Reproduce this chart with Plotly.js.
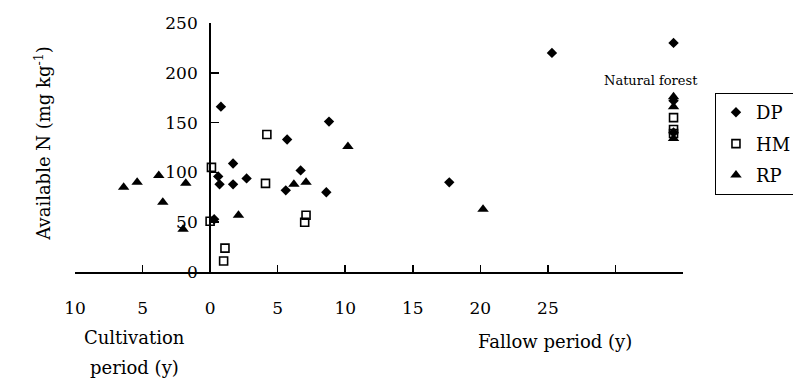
<!DOCTYPE html>
<html>
<head>
<meta charset="utf-8">
<script src="https://cdn.plot.ly/plotly-3.0.1.min.js"></script>
<style>
  html, body { margin: 0; padding: 0; background: #fff; }
  #chart { width: 793px; height: 378px; }
</style>
</head>
<body>
<div id="chart"></div>
<script>
// Cultivation years are plotted as negative x, fallow years as positive x.
// The natural forest column sits at the far right of the fallow axis.
const dpX = [0.8, 1.7, 0.6, 0.7, 1.7, 2.7, 5.7, 5.6, 6.7, 8.8, 8.6, 0.3, 17.7, 25.3, 34.3, 34.3, 34.3];
const dpY = [166, 109, 96, 88, 88, 94, 133, 82, 102, 151, 80, 53, 90, 220, 230, 172, 140];

const hmX = [0.1, 0.0, 1.1, 1.0, 4.2, 4.1, 7.1, 7.0, 34.3, 34.3, 34.3];
const hmY = [105, 51, 24, 11, 138, 89, 57, 50, 155, 143, 139];

const rpX = [-6.4, -5.4, -3.8, -1.8, -3.5, -2.0, 2.1, 6.2, 7.1, 10.2, 20.2, 34.3, 34.3, 34.3];
const rpY = [85, 90, 97, 89, 70, 43, 57, 88, 90, 126, 63, 176, 166, 134];

const xTickVals = [-10, -5, 0, 5, 10, 15, 20, 25];
const xTickText = ['10', '5', '0', '5', '10', '15', '20', '25'];
const xExtraTicks = [30];
const yTickVals = [0, 50, 100, 150, 200, 250];

const xRange = [-10, 35];
const yRange = [0, 250];

const serif = 'DejaVu Serif, Liberation Serif, serif';

const traces = [
  {
    name: 'DP', x: dpX, y: dpY, type: 'scatter', mode: 'markers',
    legendgroup: 'dp', cliponaxis: false,
    marker: { symbol: 'diamond', size: 8, color: '#000' }
  },
  {
    name: 'HM', x: hmX, y: hmY, type: 'scatter', mode: 'markers',
    legendgroup: 'hm', cliponaxis: false,
    marker: { symbol: 'square-open', size: 8, color: '#000', line: { width: 1.6, color: '#000' } }
  },
  {
    name: 'RP', x: rpX, y: rpY, type: 'scatter', mode: 'markers',
    legendgroup: 'rp', cliponaxis: false,
    marker: { symbol: 'triangle-up', size: 10, color: '#000' }
  }
];

// the vertical axis stands at x = 0, between cultivation and fallow
const yAxisPos = (0 - xRange[0]) / (xRange[1] - xRange[0]);

const layout = {
  width: 793,
  height: 378,
  margin: { l: 75, r: 110, t: 23, b: 106 },
  paper_bgcolor: '#fff',
  plot_bgcolor: '#fff',
  font: { family: serif, color: '#000', size: 17 },
  showlegend: true,
  legend: {
    xref: 'container', yref: 'container',
    x: 0.9016, y: 0.754, xanchor: 'left', yanchor: 'top',
    bordercolor: '#000', borderwidth: 1, bgcolor: '#fff',
    font: { family: serif, size: 18, color: '#000' },
    tracegroupgap: 5, itemwidth: 30
  },
  xaxis: {
    range: xRange,
    showline: true, linecolor: '#000', linewidth: 2,
    ticks: 'inside', ticklen: 7, tickwidth: 1.5, tickcolor: '#000',
    tickmode: 'array', tickvals: xTickVals, ticktext: xTickText,
    minor: {
      tickmode: 'array', tickvals: xExtraTicks,
      ticks: 'inside', ticklen: 7, tickwidth: 1.5, tickcolor: '#000', showgrid: false
    },
    tickfont: { family: serif, size: 17, color: '#000' },
    ticklabelstandoff: 20,
    showgrid: false, zeroline: false, fixedrange: true, automargin: false
  },
  yaxis: {
    range: yRange,
    anchor: 'free', position: yAxisPos,
    showline: true, linecolor: '#000', linewidth: 2,
    ticks: 'inside', ticklen: 8, tickwidth: 1.5, tickcolor: '#000',
    tickmode: 'array', tickvals: yTickVals,
    tickfont: { family: serif, size: 17, color: '#000' },
    ticklabelstandoff: 8,
    showgrid: false, zeroline: false, fixedrange: true, automargin: false
  },
  annotations: [
    {
      text: 'Available N (mg kg<sup>-1</sup>)',
      xref: 'paper', yref: 'paper', x: -0.053, y: 0.518,
      xanchor: 'center', yanchor: 'middle', textangle: -90, showarrow: false,
      font: { family: serif, size: 18, color: '#000' }
    },
    {
      text: 'Cultivation',
      xref: 'x', yref: 'paper', x: -5.6, y: -0.265,
      xanchor: 'center', yanchor: 'middle', showarrow: false,
      font: { family: serif, size: 18, color: '#000' }
    },
    {
      text: 'period (y)',
      xref: 'x', yref: 'paper', x: -5.6, y: -0.382,
      xanchor: 'center', yanchor: 'middle', showarrow: false,
      font: { family: serif, size: 18, color: '#000' }
    },
    {
      text: 'Fallow period (y)',
      xref: 'x', yref: 'paper', x: 25.5, y: -0.281,
      xanchor: 'center', yanchor: 'middle', showarrow: false,
      font: { family: serif, size: 18, color: '#000' }
    },
    {
      text: 'Natural forest',
      xref: 'x', yref: 'y', x: 32.6, y: 192,
      xanchor: 'center', yanchor: 'middle', showarrow: false,
      font: { family: serif, size: 13, color: '#000' }
    }
  ]
};

Plotly.newPlot('chart', traces, layout, { displayModeBar: false, staticPlot: true });
</script>
</body>
</html>
